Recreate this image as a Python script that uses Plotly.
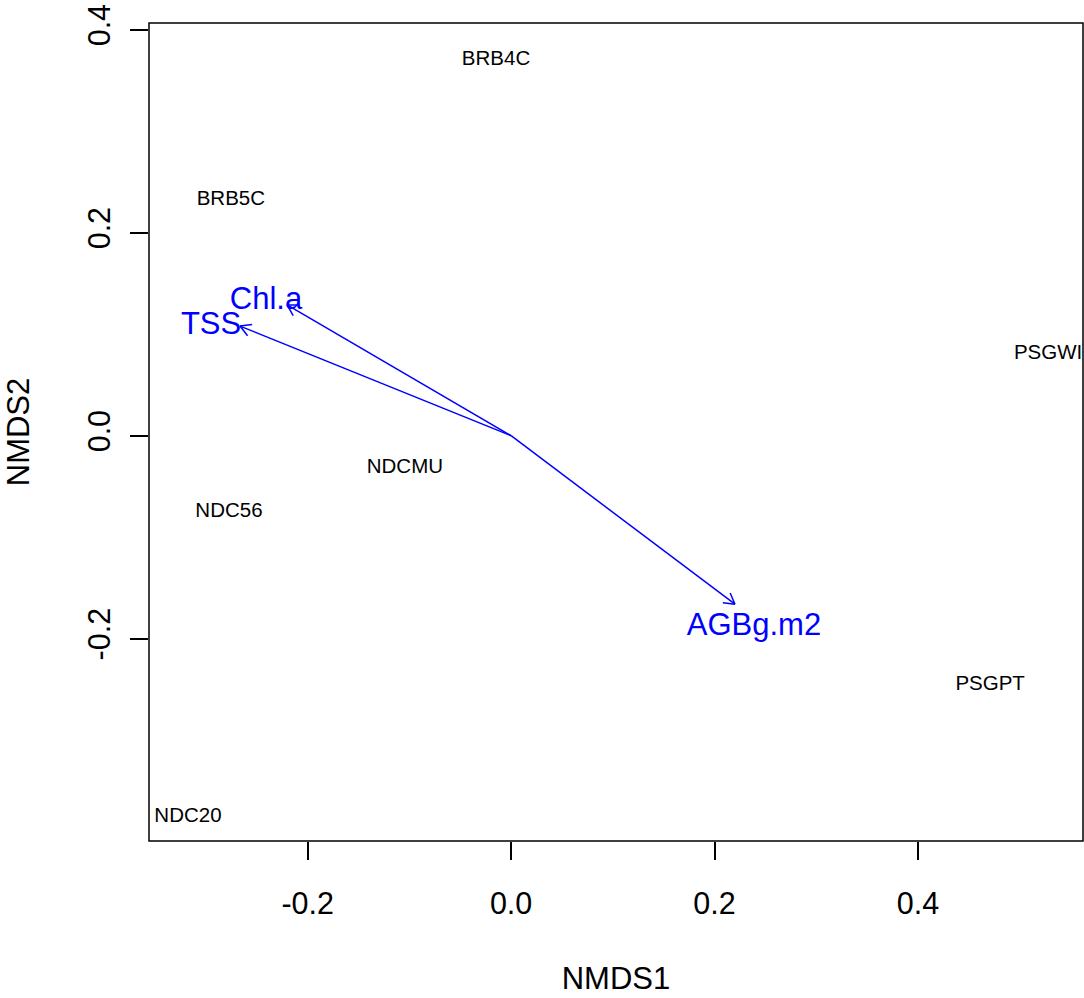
import numpy as np
import plotly.graph_objects as go

# Site scores (NMDS)
sites = ["BRB4C", "BRB5C", "PSGWI", "NDCMU", "NDC56", "PSGPT", "NDC20"]
nmds1 = [-0.0148, -0.2755, 0.528, -0.1044, -0.2774, 0.471, -0.3177]
nmds2 = [0.370, 0.232, 0.0805, -0.0318, -0.0752, -0.2458, -0.3756]

# Environmental vectors (envfit)
vec_names = ["Chl.a", "TSS", "AGBg.m2"]
vec_x = [-0.2202, -0.2665, 0.2201]
vec_y = [0.1288, 0.108, -0.166]
vec_lab_x = [-0.241, -0.295, 0.2388]
vec_lab_y = [0.1325, 0.108, -0.1891]

x_ticks = [-0.2, 0.0, 0.2, 0.4]
y_ticks = [-0.2, 0.0, 0.2, 0.4]

BLUE = "rgb(0,0,255)"
FONT = "Liberation Sans, Arial, Helvetica, sans-serif"

fig = go.Figure()

# arrows: shafts and open heads
head_len = 0.012
head_ang = np.deg2rad(30)
xs, ys = [], []
for x1, y1 in zip(vec_x, vec_y):
    xs += [0, x1, None]
    ys += [0, y1, None]
    ang = np.arctan2(y1, x1)
    for s in (1, -1):
        a = ang + np.pi + s * head_ang
        xs += [x1, x1 + head_len * np.cos(a), None]
        ys += [y1, y1 + head_len * np.sin(a), None]
fig.add_trace(go.Scatter(x=xs, y=ys, mode="lines",
                         line=dict(color=BLUE, width=1.5),
                         hoverinfo="skip", showlegend=False))

fig.add_trace(go.Scatter(x=vec_lab_x, y=vec_lab_y, mode="text", text=vec_names,
                         textposition="middle center",
                         textfont=dict(color=BLUE, size=31, family=FONT),
                         showlegend=False))

fig.add_trace(go.Scatter(x=nmds1, y=nmds2, mode="text", text=sites,
                         textposition="middle center",
                         textfont=dict(color="black", size=20.5, family=FONT),
                         showlegend=False))

axis_common = dict(showgrid=False, zeroline=False, showline=False,
                   ticks="outside", ticklen=18, tickwidth=1.5, tickcolor="black",
                   tickfont=dict(size=30.5, family=FONT, color="black"),
                   title_font=dict(size=31, family=FONT, color="black"))

fig.update_xaxes(range=[-0.356, 0.5623], tickvals=x_ticks,
                 ticktext=[f"{v:.1f}" for v in x_ticks], ticklabelstandoff=17,
                 title_text="NMDS1", title_standoff=48, **axis_common)
fig.update_yaxes(range=[-0.3993, 0.4066], tickvals=y_ticks,
                 ticktext=[f"{v:.1f}" for v in y_ticks], tickangle=-90,
                 ticklabelstandoff=8,
                 title_text="NMDS2", title_standoff=42, **axis_common)

fig.add_shape(type="rect", xref="paper", yref="paper", x0=0, y0=0, x1=1, y1=1,
              line=dict(color="black", width=1.5))

fig.update_layout(width=1084, height=998,
                  margin=dict(l=149, r=1, t=23, b=157),
                  paper_bgcolor="white", plot_bgcolor="white",
                  font=dict(family=FONT))

fig.write_html("out.html")
